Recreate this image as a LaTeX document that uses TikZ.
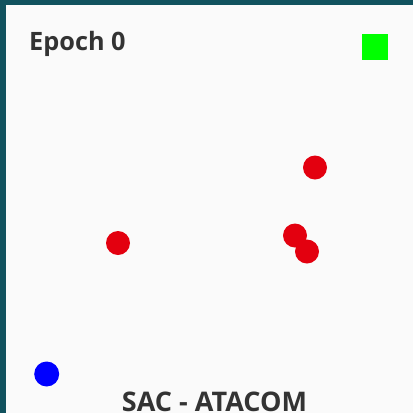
\documentclass[tikz,border=0pt]{standalone}
\usepackage{fontspec}
\setmainfont{Open Sans}
\definecolor{bg}{HTML}{FAFAFA}
\definecolor{frame}{HTML}{11525E}
\definecolor{obst}{HTML}{E3000F}
\definecolor{goalc}{HTML}{00FF00}
\definecolor{agentc}{HTML}{0000FF}
\definecolor{txt}{HTML}{333333}
\tikzset{
  obstacle/.style={circle,fill=obst,inner sep=0pt,minimum size=24bp},
  agent/.style={circle,fill=agentc,inner sep=0pt,minimum size=25bp},
  goal/.style={rectangle,fill=goalc,inner sep=0pt,minimum size=26bp},
  label/.style={inner sep=0pt,text=txt,font=\fontsize{26.5bp}{30bp}\selectfont\bfseries}
}
\begin{document}
\begin{tikzpicture}[x=1bp,y=-1bp]
\fill[bg] (0,0) rectangle (413,413);
\useasboundingbox (0,0) rectangle (413,413);
\fill[frame] (0,0) rectangle (6,413);
\fill[frame] (0,0) rectangle (413,5);
\node[label,anchor=base west,font=\fontsize{25.3bp}{30bp}\selectfont\bfseries] (epoch) at (29,50) {Epoch 0};
\node[label,anchor=base,font=\fontsize{27bp}{30bp}\selectfont\bfseries] (title) at (214.5,411.5) {SAC - ATACOM};
\node[goal] (g) at (375,47) {};
\node[obstacle] (o1) at (315,167.5) {};
\node[obstacle] (o2) at (118,243) {};
\node[obstacle] (o3) at (295,235.5) {};
\node[obstacle] (o4) at (307,251.5) {};
\node[agent] (a) at (46.7,374) {};
\end{tikzpicture}
\end{document}
